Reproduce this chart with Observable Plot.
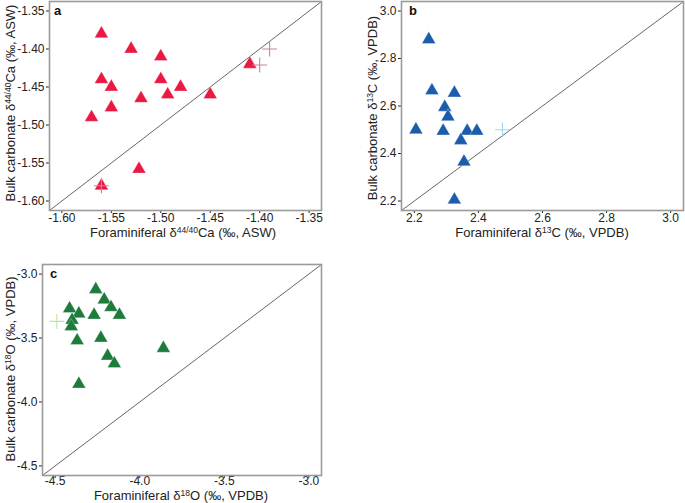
<!DOCTYPE html>
<html>
<head>
<meta charset="utf-8">
<script src="https://cdn.jsdelivr.net/npm/d3@7"></script>
<script src="https://cdn.jsdelivr.net/npm/@observablehq/plot@0.6"></script>
<style>
  html, body { margin: 0; padding: 0; background: #fff; }
  #fig { position: relative; width: 685px; height: 503px; overflow: hidden; font-family: "Liberation Sans", Arial, sans-serif; color: #222; }
  .panel { position: absolute; }
  .title { position: absolute; font-size: 13px; line-height: 14px; white-space: nowrap; transform: translate(-50%, -50%); color: #222; }
  .ytitle { transform: translate(-50%, -50%) rotate(-90deg); }
  .title sup { font-size: 8.5px; line-height: 0; vertical-align: 0; position: relative; top: -4px; }
  .tag { position: absolute; font-weight: bold; font-size: 13px; color: #111; }
</style>
</head>
<body>
<div id="fig"></div>
<script>
// ---- Panel a: Ca isotopes ----
const caForam = [-1.56, -1.53, -1.50, -1.56, -1.55, -1.50, -1.48, -1.52, -1.493, -1.45, -1.55, -1.57, -1.41, -1.522, -1.56];
const caBulk  = [-1.38, -1.40, -1.41, -1.44, -1.45, -1.44, -1.45, -1.465, -1.46, -1.46, -1.477, -1.49, -1.42, -1.558, -1.58];
const caPlusForam = [-1.39, -1.40, -1.56];
const caPlusBulk  = [-1.40, -1.421, -1.58];
const caTicks = [-1.60, -1.55, -1.50, -1.45, -1.40, -1.35];
const caDomain = [-1.6125, -1.3375];

// ---- Panel b: C isotopes ----
const cForam = [2.245, 2.255, 2.325, 2.295, 2.305, 2.205, 2.29, 2.365, 2.395, 2.345, 2.355, 2.325];
const cBulk  = [2.88, 2.665, 2.655, 2.595, 2.555, 2.50, 2.495, 2.495, 2.495, 2.455, 2.365, 2.205];
const cPlusForam = [2.475];
const cPlusBulk  = [2.50];
const cTicks = [2.2, 2.4, 2.6, 2.8, 3.0];
const cDomain = [2.16, 3.04];

// ---- Panel c: O isotopes ----
const oForam = [-4.26, -4.21, -4.17, -4.12, -4.27, -4.415, -4.36, -4.40, -4.405, -4.37, -4.23, -4.19, -4.15, -3.86, -4.36];
const oBulk  = [-3.12, -3.20, -3.26, -3.32, -3.32, -3.27, -3.31, -3.36, -3.41, -3.52, -3.50, -3.64, -3.70, -3.58, -3.86];
const oPlusForam = [-4.49];
const oPlusBulk  = [-3.37];
const oTicks = [-4.5, -4.0, -3.5, -3.0];
const oDomain = [-4.575, -2.925];

const colors = { a: "#EA1942", b: "#1B5CAB", c: "#1D7B3C" };
const plusColors = { a: "#C68A8F", b: "#9DD6F2", c: "#BFE2A6" };

const plusSymbol = {
  draw(context, size) {
    const r = Math.sqrt(size / Math.PI);
    context.moveTo(-r, 0); context.lineTo(r, 0);
    context.moveTo(0, -r); context.lineTo(0, r);
  }
};

function panel({xs, ys, px, py, ticks, domain, fmt, color, plusColor, width, height, margins, xPad}) {
  const pts = xs.map((x, i) => ({x, y: ys[i]}));
  const plus = px.map((x, i) => ({x, y: py[i]}));
  const diag = [{x: domain[0], y: domain[0]}, {x: domain[1], y: domain[1]}];
  return Plot.plot({
    width, height,
    marginLeft: margins[0], marginRight: margins[1], marginTop: margins[2], marginBottom: margins[3],
    style: { fontFamily: "'Liberation Sans', Arial, sans-serif", fontSize: "12px", color: "#222", background: "white" },
    x: { domain, ticks, tickFormat: fmt, tickSize: 3, tickPadding: xPad, label: null },
    y: { domain, ticks, tickFormat: fmt, tickSize: 3, tickPadding: 2, label: null },
    marks: [
      Plot.line(diag, { x: "x", y: "y", stroke: "#555", strokeWidth: 0.9 }),
      Plot.dot(pts, { x: "x", y: "y", symbol: "triangle", r: 5.1, fill: color, stroke: "white", strokeOpacity: 0.5, strokeWidth: 0.6 }),
      Plot.dot(plus, { x: "x", y: "y", symbol: plusSymbol, r: 7.5, fill: "none", stroke: plusColor, strokeWidth: 1.1 }),
      Plot.frame({ stroke: "#9a9a9a", strokeWidth: 1.6 })
    ]
  });
}

const fig = document.getElementById("fig");
function place(el, left, top) {
  el.classList.add("panel");
  el.style.left = left + "px";
  el.style.top = top + "px";
  fig.appendChild(el);
}
function addText(html, x, y, cls) {
  const d = document.createElement("div");
  d.className = cls;
  d.innerHTML = html;
  d.style.left = x + "px";
  d.style.top = y + "px";
  fig.appendChild(d);
}

const pa = panel({ xs: caForam, ys: caBulk, px: caPlusForam, py: caPlusBulk, ticks: caTicks, domain: caDomain,
  fmt: d => d.toFixed(2), color: colors.a, plusColor: plusColors.a, width: 340, height: 250, margins: [49, 19, 1, 40], xPad: 0 });
place(pa, 0, 0);

const pb = panel({ xs: cForam, ys: cBulk, px: cPlusForam, py: cPlusBulk, ticks: cTicks, domain: cDomain,
  fmt: d => d.toFixed(1), color: colors.b, plusColor: plusColors.b, width: 345, height: 250, margins: [61, 2, 1, 40], xPad: 0 });
place(pb, 340, 0);

const pc = panel({ xs: oForam, ys: oBulk, px: oPlusForam, py: oPlusBulk, ticks: oTicks, domain: oDomain,
  fmt: d => d.toFixed(1), color: colors.c, plusColor: plusColors.c, width: 340, height: 253, margins: [42, 19, 14, 28], xPad: -2 });
place(pc, 0, 250);

// panel tags
addText("a", 54, 3, "tag");
addText("b", 409, 3, "tag");
addText("c", 50, 266, "tag");

// axis titles
addText("Foraminiferal δ<sup>44/40</sup>Ca (‰, ASW)", 183, 233, "title");
addText("Bulk carbonate δ<sup>44/40</sup>Ca (‰, ASW)", 11, 103, "title ytitle");
addText("Foraminiferal δ<sup>13</sup>C (‰, VPDB)", 542, 233, "title");
addText("Bulk carbonate δ<sup>13</sup>C (‰, VPDB)", 373, 108, "title ytitle");
addText("Foraminiferal δ<sup>18</sup>O (‰, VPDB)", 181, 496, "title");
addText("Bulk carbonate δ<sup>18</sup>O (‰, VPDB)", 11, 369, "title ytitle");
</script>
</body>
</html>
